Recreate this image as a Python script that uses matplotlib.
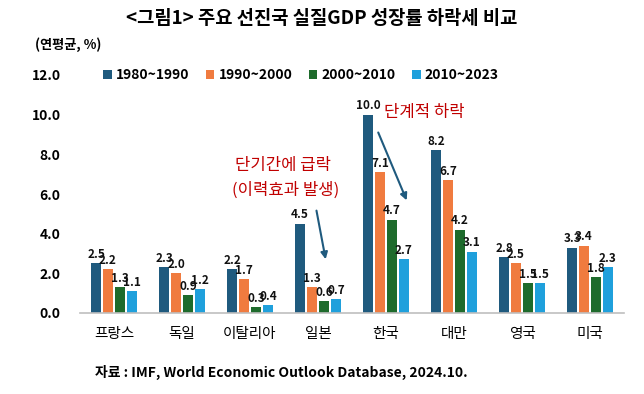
import matplotlib
matplotlib.use("Agg")
import matplotlib.pyplot as plt
import numpy as np

plt.rcParams['font.family'] = ['Noto Sans CJK KR', 'DejaVu Sans']

categories = ['프랑스', '독일', '이탈리아', '일본', '한국', '대만', '영국', '미국']
series_names = ['1980~1990', '1990~2000', '2000~2010', '2010~2023']
s1980 = [2.5, 2.3, 2.2, 4.5, 10.0, 8.2, 2.8, 3.3]
s1990 = [2.2, 2.0, 1.7, 1.3, 7.1, 6.7, 2.5, 3.4]
s2000 = [1.3, 0.9, 0.3, 0.6, 4.7, 4.2, 1.5, 1.8]
s2010 = [1.1, 1.2, 0.4, 0.7, 2.7, 3.1, 1.5, 2.3]
yticks = [0, 2, 4, 6, 8, 10, 12]
colors = ['#1F5A7E', '#F07B3F', '#1E6B2C', '#1FA0DC']

fig = plt.figure(figsize=(6.44, 3.94), dpi=100)
ax = fig.add_axes([80/644, 1-313/394, 544/644, (313-75)/394])

x = np.arange(len(categories))
width = 0.15
step = 0.176
data = [s1980, s1990, s2000, s2010]
for i, (vals, c, nm) in enumerate(zip(data, colors, series_names)):
    pos = x + (i - 1.5) * step
    ax.bar(pos, vals, width=width, color=c, label=nm)
    for px, v in zip(pos, vals):
        ax.text(px, v + 0.12, f'{v:.1f}', ha='center', va='bottom',
                fontsize=8.5, fontweight='bold', color='#111111')

ax.set_xlim(-0.5, len(categories) - 0.5)
ax.set_ylim(0, 12)
ax.set_yticks(yticks)
ax.set_yticklabels([f'{t:.1f}' for t in yticks], fontsize=10, fontweight='bold')
ax.set_xticks(x)
ax.set_xticklabels(categories, fontsize=10.5)
ax.tick_params(axis='both', length=0)
ax.tick_params(axis='x', pad=10)
ax.tick_params(axis='y', pad=14)
for s in ['top', 'right', 'left']:
    ax.spines[s].set_visible(False)
ax.spines['bottom'].set_color('#BFBFBF')
ax.spines['bottom'].set_linewidth(1.2)

leg = ax.legend(loc='center left', bbox_to_anchor=(0.02, 1.0), ncol=4, frameon=False,
                handlelength=0.6, handleheight=0.6, columnspacing=1.2,
                handletextpad=0.3, prop={'weight': 'bold', 'size': 10})

fig.text(0.5, 1-18/394, '<그림1> 주요 선진국 실질GDP 성장률 하락세 비교', ha='center', va='center',
         fontsize=13.5, fontweight='bold')
fig.text(35/644, 1-45/394, '(연평균, %)', ha='left', va='center', fontsize=9.5, fontweight='bold')
fig.text(95/644, 1-372/394, '자료 : IMF, World Economic Outlook Database, 2024.10.', ha='left',
         va='center', fontsize=10, fontweight='bold')

ax.text(2.49, 7.46, '단기간에 급락', color='#C00000', fontsize=12, ha='center', va='center')
ax.text(2.52, 6.2, '(이력효과 발생)', color='#C00000', fontsize=12, ha='center', va='center')
ax.text(4.57, 10.1, '단계적 하락', color='#C00000', fontsize=12, ha='center', va='center')

ax.annotate('', xy=(3.12, 2.57), xytext=(2.97, 5.3),
            arrowprops=dict(arrowstyle='-|>', color='#1F5A7E', lw=1.5, mutation_scale=10))
ax.annotate('', xy=(4.32, 5.55), xytext=(3.87, 9.23),
            arrowprops=dict(arrowstyle='-|>', color='#1F5A7E', lw=1.5, mutation_scale=10))

fig.savefig('out.png', dpi=100)
